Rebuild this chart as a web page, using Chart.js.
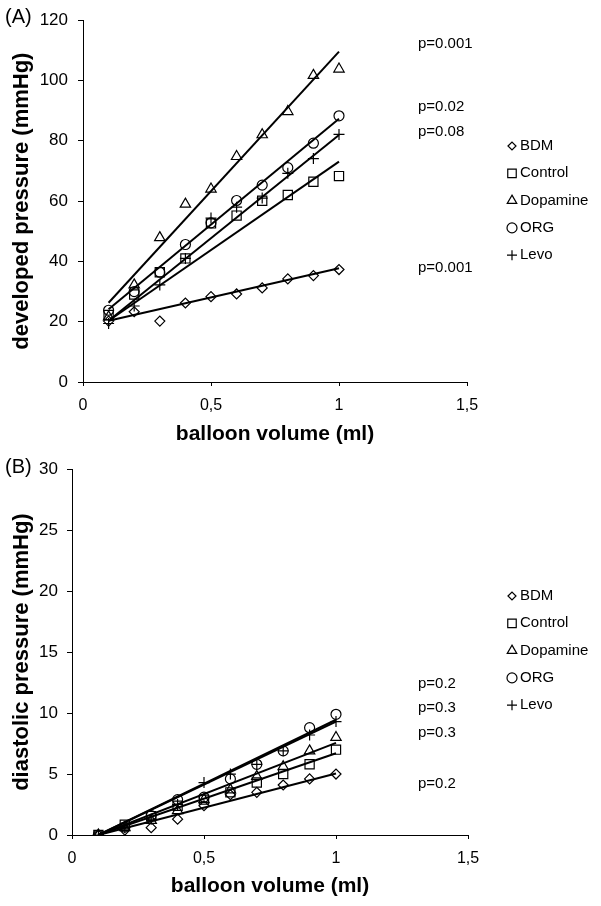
<!DOCTYPE html>
<html lang="en">
<head>
  <meta charset="UTF-8">
  <title>Balloon volume vs pressure</title>
  <script src="https://cdn.jsdelivr.net/npm/chart.js"></script>
  <style>
    html, body {
      margin: 0;
      padding: 0;
      background-color: #ffffff;
    }

    .panel {
      position: absolute;
      left: 0;
      width: 601px;
    }

    #panelA { top: 0; height: 450px; }
    #panelB { top: 450px; height: 456px; }
  </style>
</head>
<body>
  <div class="panel" id="panelA"><canvas id="chartA"></canvas></div>
  <div class="panel" id="panelB"><canvas id="chartB"></canvas></div>

  <script>
    const volumes = [0.1, 0.2, 0.3, 0.4, 0.5, 0.6, 0.7, 0.8, 0.9, 1.0];
    const seriesNames = ['BDM', 'Control', 'Dopamine', 'ORG', 'Levo'];
    const xTickLabels = ['0', '0,5', '1', '1,5'];

    // (A) developed pressure, mmHg
    const bdmDev      = [20.2, 23.3, 20.2, 26.2, 28.3, 29.2, 31.2, 34.2, 35.3, 37.3];
    const controlDev  = [22.2, 29.0, 36.4, 41.0, 52.6, 55.2, 60.1, 62.0, 66.4, 68.3];
    const dopamineDev = [21.6, 32.2, 47.9, 59.0, 64.0, 74.8, 82.0, 89.7, 101.7, 103.8];
    const orgDev      = [23.8, 30.0, 36.4, 45.6, 52.8, 60.2, 65.3, 71.1, 79.2, 88.3];
    const levoDev     = [19.4, 25.2, 32.2, 41.0, 54.4, 58.0, 61.0, 69.2, 74.1, 82.1];
    // regression lines, value at 0.1 ml and at 1 ml (series order)
    const devFitStart = [20.3, 20.3, 26.3, 24.1, 20.3];
    const devFitEnd   = [37.7, 73.1, 109.6, 87.3, 81.9];
    const devPValues  = ['p=0.001', 'p=0.02', 'p=0.08', 'p=0.001'];

    // (B) diastolic pressure, mmHg
    const bdmDia      = [0, 0.4, 0.6, 1.3, 2.4, 3.3, 3.5, 4.1, 4.6, 5.0];
    const controlDia  = [0, 0.85, 1.55, 2.4, 2.9, 3.5, 4.3, 5.0, 5.8, 7.0];
    const dopamineDia = [0, 0.6, 1.2, 2.0, 2.9, 3.7, 4.8, 5.6, 6.9, 8.0];
    const orgDia      = [0, 0.65, 1.6, 2.9, 3.1, 4.6, 5.8, 6.9, 8.8, 9.9];
    const levoDia     = [0, 0.6, 1.3, 2.5, 4.3, 5.0, 5.8, 6.9, 8.2, 9.3];
    const diaFitStart = [0, 0, 0, 0, 0];
    const diaFitEnd   = [5.05, 6.7, 7.55, 9.45, 9.3];
    const diaPValues  = ['p=0.2', 'p=0.3', 'p=0.3', 'p=0.2'];

    const markerStyles = ['rectRot', 'rect', 'triangle', 'circle', 'cross'];
    const markerRadius = [5, 6.5, 6, 5, 5.5];
    const FONT = "'Liberation Sans', Arial, sans-serif";

    // panel label, p-values and the symbol legend on the right side
    const sideNotes = {
      id: 'sideNotes',
      afterDraw(chart, args, opts) {
        const ctx = chart.ctx;
        ctx.save();
        ctx.fillStyle = '#000';
        ctx.textBaseline = 'middle';
        ctx.textAlign = 'left';

        ctx.font = '20px ' + FONT;
        ctx.fillText(opts.label, 5, 17);

        ctx.font = '15px ' + FONT;
        opts.pValues.forEach((p, i) => ctx.fillText(p, 418, opts.pY[i]));

        seriesNames.forEach((name, i) => {
          const y = 146 + i * 27.3;
          ctx.fillText(name, 520, y);
          ctx.strokeStyle = '#000';
          ctx.fillStyle = 'rgba(255,255,255,0)';
          ctx.lineWidth = 1.2;
          Chart.helpers.drawPoint(ctx, {
            pointStyle: markerStyles[i],
            radius: [4, 6, 5.5, 5, 5][i],
            rotation: 0,
            borderWidth: 1.2
          }, 512, y);
          ctx.fillStyle = '#000';
        });
        ctx.restore();
      }
    };

    function buildDatasets(series, fitStart, fitEnd) {
      const sets = [];
      series.forEach((vals, i) => {
        sets.push({
          label: seriesNames[i] + ' fit',
          data: [{ x: volumes[0], y: fitStart[i] }, { x: volumes[volumes.length - 1], y: fitEnd[i] }],
          showLine: true,
          borderColor: '#000',
          borderWidth: 2,
          pointRadius: 0
        });
      });
      series.forEach((vals, i) => {
        sets.push({
          label: seriesNames[i],
          data: vals.map((v, k) => ({ x: volumes[k], y: v })),
          showLine: false,
          pointStyle: markerStyles[i],
          pointRadius: markerRadius[i],
          pointBorderColor: '#000',
          pointBackgroundColor: 'rgba(255,255,255,0)',
          pointBorderWidth: 1.2
        });
      });
      return sets;
    }

    function makeChart(canvasId, cfg) {
      return new Chart(document.getElementById(canvasId), {
        type: 'scatter',
        data: { datasets: buildDatasets(cfg.series, cfg.fitStart, cfg.fitEnd) },
        options: {
          responsive: true,
          maintainAspectRatio: false,
          animation: false,
          layout: { padding: { left: 0, right: cfg.right, top: cfg.top, bottom: 0 } },
          plugins: {
            legend: { display: false },
            tooltip: { enabled: false },
            sideNotes: { label: cfg.label, pValues: cfg.pValues, pY: cfg.pY }
          },
          scales: {
            x: {
              type: 'linear',
              min: 0,
              max: 1.5,
              afterFit: s => { s.height = cfg.xHeight; },
              border: { color: '#000', width: 1 },
              grid: { drawOnChartArea: false, drawTicks: true, tickLength: 4, color: '#000' },
              ticks: {
                stepSize: 0.5,
                padding: 10,
                color: '#000',
                font: { family: FONT, size: 16 },
                callback: v => xTickLabels[Math.round(v / 0.5)]
              },
              title: {
                display: true,
                text: 'balloon volume (ml)',
                color: '#000',
                font: { family: FONT, size: 21, weight: 'bold' },
                padding: { top: 0, bottom: cfg.xTitlePad }
              }
            },
            y: {
              min: 0,
              max: cfg.yMax,
              afterFit: s => { s.width = cfg.yWidth; },
              border: { color: '#000', width: 1 },
              grid: { drawOnChartArea: false, drawTicks: true, tickLength: 5, color: '#000' },
              ticks: {
                stepSize: cfg.yStep,
                padding: cfg.yTickPad,
                color: '#000',
                font: { family: FONT, size: 17 }
              },
              title: {
                display: true,
                text: cfg.yTitle,
                color: '#000',
                font: { family: FONT, size: 22, weight: 'bold' },
                padding: { top: 9, bottom: 0 }
              }
            }
          }
        },
        plugins: [sideNotes]
      });
    }

    makeChart('chartA', {
      label: '(A)',
      series: [bdmDev, controlDev, dopamineDev, orgDev, levoDev],
      fitStart: devFitStart,
      fitEnd: devFitEnd,
      pValues: devPValues,
      pY: [44, 107, 132, 268],
      yMax: 120,
      yStep: 20,
      yTitle: 'developed pressure (mmHg)',
      top: 15,
      right: 134,
      xHeight: 68,
      yWidth: 83,
      yTickPad: 10,
      xTitlePad: 3
    });

    makeChart('chartB', {
      label: '(B)',
      series: [bdmDia, controlDia, dopamineDia, orgDia, levoDia],
      fitStart: diaFitStart,
      fitEnd: diaFitEnd,
      pValues: diaPValues,
      pY: [234, 258, 283, 334],
      yMax: 30,
      yStep: 5,
      yTitle: 'diastolic pressure (mmHg)',
      top: 17,
      right: 133,
      xHeight: 71,
      yWidth: 72,
      yTickPad: 9,
      xTitlePad: 7
    });
  </script>
</body>
</html>
